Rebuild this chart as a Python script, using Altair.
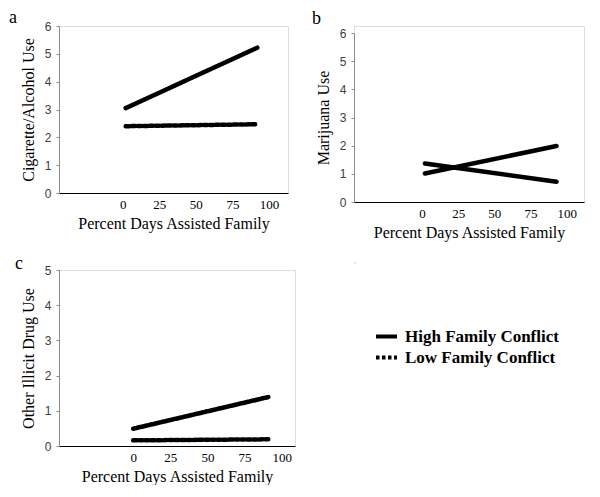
import altair as alt
import pandas as pd

SERIES = ["High Family Conflict", "Low Family Conflict"]
X_TICKS = [0, 25, 50, 75, 100]
X_TITLE = "Percent Days Assisted Family"

# panel a: Cigarette/Alcohol Use
a_x = [2, 92]
a_high = [3.05, 5.22]
a_low = [2.40, 2.47]

# panel b: Marijuana Use
b_x = [2, 93]
b_high = [1.01, 1.99]
b_low = [1.37, 0.72]

# panel c: Other Illicit Drug Use
c_x = [0, 91]
c_high = [0.49, 1.39]
c_low = [0.16, 0.19]

SERIF = "Liberation Serif"
SANS = "Liberation Sans"


def make_df(xs, high, low):
    rows = []
    for s, ys in zip(SERIES, [high, low]):
        for xv, yv in zip(xs, ys):
            rows.append({"x": xv, "y": yv, "series": s})
    return pd.DataFrame(rows)


DASH_SCALE = alt.Scale(domain=SERIES, range=[[1, 0], [3.5, 2.5]])


def panel(df, letter, ytitle, ymax, xdom, w, h, top_gap, lx, ly, dashed=True):
    x = alt.X(
        "x:Q",
        scale=alt.Scale(domain=xdom, nice=False, zero=False),
        axis=alt.Axis(
            values=X_TICKS, title=X_TITLE, ticks=False, tickSize=0, grid=False,
            domainColor="#000000", domainWidth=1,
            labelFont=SERIF, labelFontSize=13, labelColor="#000000", labelPadding=5,
            titleFont=SERIF, titleFontSize=16, titleFontWeight="normal",
            titleColor="#000000", titlePadding=4,
        ),
    )
    y = alt.Y(
        "y:Q",
        scale=alt.Scale(domain=[0, ymax], nice=False, range=[h, top_gap]),
        axis=alt.Axis(
            values=list(range(ymax + 1)), title=ytitle, grid=False,
            ticks=True, tickSize=3, tickColor="#8c8c8c", domainColor="#8c8c8c",
            labelFont=SANS, labelFontSize=12, labelColor="#404040", labelPadding=5,
            titleFont=SERIF, titleFontSize=16, titleFontWeight="normal",
            titleColor="#000000", titlePadding=8,
        ),
    )
    enc = dict(x=x, y=y)
    if dashed:
        enc["strokeDash"] = alt.StrokeDash("series:N", scale=DASH_SCALE, legend=None)
    else:
        enc["detail"] = alt.Detail("series:N")
    lines = (
        alt.Chart(df)
        .mark_line(color="black", strokeWidth=4.5, strokeCap="round")
        .encode(**enc)
    )
    tag = (
        alt.Chart(pd.DataFrame({"letter": [letter]}))
        .mark_text(font=SERIF, fontSize=18, align="left", baseline="alphabetic", color="black")
        .encode(text="letter:N", x=alt.value(lx), y=alt.value(ly))
    )
    return alt.layer(lines, tag).properties(width=w, height=h)


pa = panel(make_df(a_x, a_high, a_low), "a", "Cigarette/Alcohol Use", 6,
           [-43.6, 113], 229, 167, 0, -50, -3)
pb = panel(make_df(b_x, b_high, b_low), "b", "Marijuana Use", 6,
           [-47, 112], 230, 176, 7, -42, -2, dashed=False)
pc = panel(make_df(c_x, c_high, c_low), "c", "Other Illicit Drug Use", 5,
           [-50, 109], 236, 176, 0, -44, -1)

# legend panel: the library's own legend for the strokeDash channel
legend = alt.Legend(
    orient="none", legendX=20, legendY=62, title=None,
    labelFont=SERIF, labelFontSize=17, labelFontWeight="bold", labelColor="#000000",
    symbolType="stroke", symbolStrokeWidth=4, symbolSize=441, symbolOpacity=1,
    symbolStrokeColor="black", labelOffset=6, rowPadding=-4,
)
pleg = (
    alt.Chart(make_df(c_x, c_high, c_low))
    .mark_line(opacity=0)
    .encode(
        x=alt.X("x:Q", axis=None),
        y=alt.Y("y:Q", axis=None),
        strokeDash=alt.StrokeDash("series:N", scale=DASH_SCALE, legend=legend),
    )
    .properties(width=1, height=1)
)

left = alt.vconcat(pa, pc, spacing=22).resolve_scale(strokeDash="independent")
right = alt.vconcat(pb, pleg, spacing=20).resolve_scale(strokeDash="independent")
chart = (
    alt.hconcat(left, right, spacing=15)
    .resolve_scale(strokeDash="independent")
    .properties(padding={"left": 0, "top": 0, "right": 0, "bottom": 0})
    .configure_view(stroke=None)
    .configure(background="white")
)

chart.save("out.html", embed_options={"renderer": "svg", "actions": False})
